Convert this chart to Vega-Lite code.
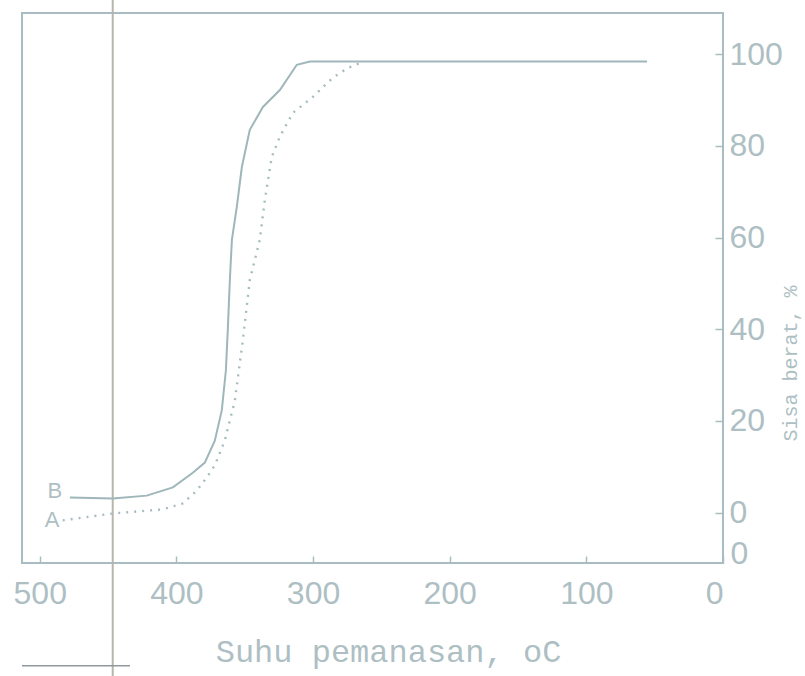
{
  "$schema": "https://vega.github.io/schema/vega-lite/v6.json",
  "width": 701,
  "height": 550,
  "autosize": {"type": "none"},
  "padding": {"left": 22, "top": 13, "right": 82, "bottom": 113},
  "background": "white",
  "config": {
    "view": {"stroke": "#a9bcc1", "strokeWidth": 2},
    "axis": {"grid": false, "domain": false, "labelColor": "#aebfc4", "tickColor": "#a9bcc1", "titleColor": "#aebfc4", "labelFont": "Liberation Sans", "labelFontSize": 32, "labelFontWeight": "normal", "titleFont": "Liberation Mono", "titleFontWeight": "normal"}
  },
  "datasets": {
    "curves": [
      {"series": "B", "temp": 478, "pct": 3.3},
      {"series": "B", "temp": 446.6, "pct": 3.1},
      {"series": "B", "temp": 421.7, "pct": 3.7},
      {"series": "B", "temp": 402.6, "pct": 5.5},
      {"series": "B", "temp": 388, "pct": 8.7},
      {"series": "B", "temp": 379.2, "pct": 10.9},
      {"series": "B", "temp": 371.9, "pct": 15.7},
      {"series": "B", "temp": 366.8, "pct": 22.3},
      {"series": "B", "temp": 363.8, "pct": 31.0},
      {"series": "B", "temp": 362.4, "pct": 39.8},
      {"series": "B", "temp": 360.9, "pct": 50.7},
      {"series": "B", "temp": 359.4, "pct": 59.5},
      {"series": "B", "temp": 355.8, "pct": 66.7},
      {"series": "B", "temp": 352.1, "pct": 75.4},
      {"series": "B", "temp": 346.3, "pct": 83.5},
      {"series": "B", "temp": 336.7, "pct": 88.5},
      {"series": "B", "temp": 324.3, "pct": 92.2},
      {"series": "B", "temp": 311.9, "pct": 97.7},
      {"series": "B", "temp": 302.3, "pct": 98.4},
      {"series": "B", "temp": 55.6, "pct": 98.4},
      {"series": "A", "temp": 483.2, "pct": -1.7},
      {"series": "A", "temp": 446.6, "pct": -0.2},
      {"series": "A", "temp": 410, "pct": 0.7},
      {"series": "A", "temp": 395.3, "pct": 2.0},
      {"series": "A", "temp": 385.1, "pct": 4.8},
      {"series": "A", "temp": 377.7, "pct": 7.7},
      {"series": "A", "temp": 371.9, "pct": 10.3},
      {"series": "A", "temp": 364.6, "pct": 15.7},
      {"series": "A", "temp": 357.2, "pct": 24.5},
      {"series": "A", "temp": 351.4, "pct": 37.6},
      {"series": "A", "temp": 346.3, "pct": 50.7},
      {"series": "A", "temp": 339, "pct": 59.5},
      {"series": "A", "temp": 335.3, "pct": 68.2},
      {"series": "A", "temp": 330.2, "pct": 77.6},
      {"series": "A", "temp": 324.3, "pct": 82.0},
      {"series": "A", "temp": 314.8, "pct": 87.2},
      {"series": "A", "temp": 300.1, "pct": 90.7},
      {"series": "A", "temp": 285.5, "pct": 94.9},
      {"series": "A", "temp": 274.5, "pct": 97.0},
      {"series": "A", "temp": 265.7, "pct": 98.1}
    ],
    "labels": [
      {"temp": 489, "pct": 4.8, "t": "B", "size": 22},
      {"temp": 491, "pct": -1.7, "t": "A", "size": 22},
      {"temp": -12, "pct": -9, "t": "0", "size": 32}
    ],
    "scan": [
      {"temp": 446.6, "pct": -36, "pct2": 112},
      {"temp": 513, "pct": -33.4, "temp2": 434}
    ]
  },
  "layer": [
    {
      "data": {"name": "scan"},
      "transform": [{"filter": "datum.pct2 != null"}],
      "mark": {"type": "rule", "color": "#b9b4ac", "strokeWidth": 2, "clip": false},
      "encoding": {
        "x": {"field": "temp", "type": "quantitative", "scale": {"domain": [0, 513], "reverse": true, "nice": false, "zero": false}},
        "y": {"field": "pct", "type": "quantitative", "scale": {"domain": [-11, 109], "nice": false, "zero": false}},
        "y2": {"field": "pct2"}
      }
    },
    {
      "data": {"name": "scan"},
      "transform": [{"filter": "datum.temp2 != null"}],
      "mark": {"type": "rule", "color": "#8f989c", "strokeWidth": 1.5, "clip": false},
      "encoding": {
        "x": {"field": "temp", "type": "quantitative"},
        "x2": {"field": "temp2"},
        "y": {"field": "pct", "type": "quantitative"}
      }
    },
    {
      "data": {"name": "curves"},
      "transform": [{"filter": "datum.series == 'B'"}],
      "mark": {"type": "line", "color": "#9fb6bb", "strokeWidth": 2},
      "encoding": {
        "x": {"field": "temp", "type": "quantitative",
          "axis": {"orient": "bottom", "values": [0, 100, 200, 300, 400, 500], "tickSize": -7, "tickWidth": 1.5, "labelPadding": 22, "labelBaseline": "top",
            "title": "Suhu pemanasan, oC", "titleFontSize": 32, "titleX": 366, "titleY": 88, "titleBaseline": "middle", "titleAlign": "center"}},
        "y": {"field": "pct", "type": "quantitative",
          "axis": {"orient": "right", "values": [0, 20, 40, 60, 80, 100], "tickSize": -8, "tickWidth": 1.5, "labelPadding": 14, "labelBaseline": "middle",
            "title": "Sisa berat, %", "titleFontSize": 20, "titleAngle": 270, "titleX": 67, "titleY": 350, "titleBaseline": "middle", "titleAlign": "center"}}
      }
    },
    {
      "data": {"name": "curves"},
      "transform": [{"filter": "datum.series == 'A'"}],
      "mark": {"type": "line", "color": "#a7bcc0", "strokeWidth": 2.4, "strokeDash": [2, 6]},
      "encoding": {
        "x": {"field": "temp", "type": "quantitative"},
        "y": {"field": "pct", "type": "quantitative"}
      }
    },
    {
      "data": {"name": "labels"},
      "mark": {"type": "text", "color": "#aebfc4", "font": "Liberation Sans", "clip": false},
      "encoding": {
        "x": {"field": "temp", "type": "quantitative"},
        "y": {"field": "pct", "type": "quantitative"},
        "text": {"field": "t"},
        "size": {"field": "size", "type": "quantitative", "scale": null}
      }
    }
  ]
}
